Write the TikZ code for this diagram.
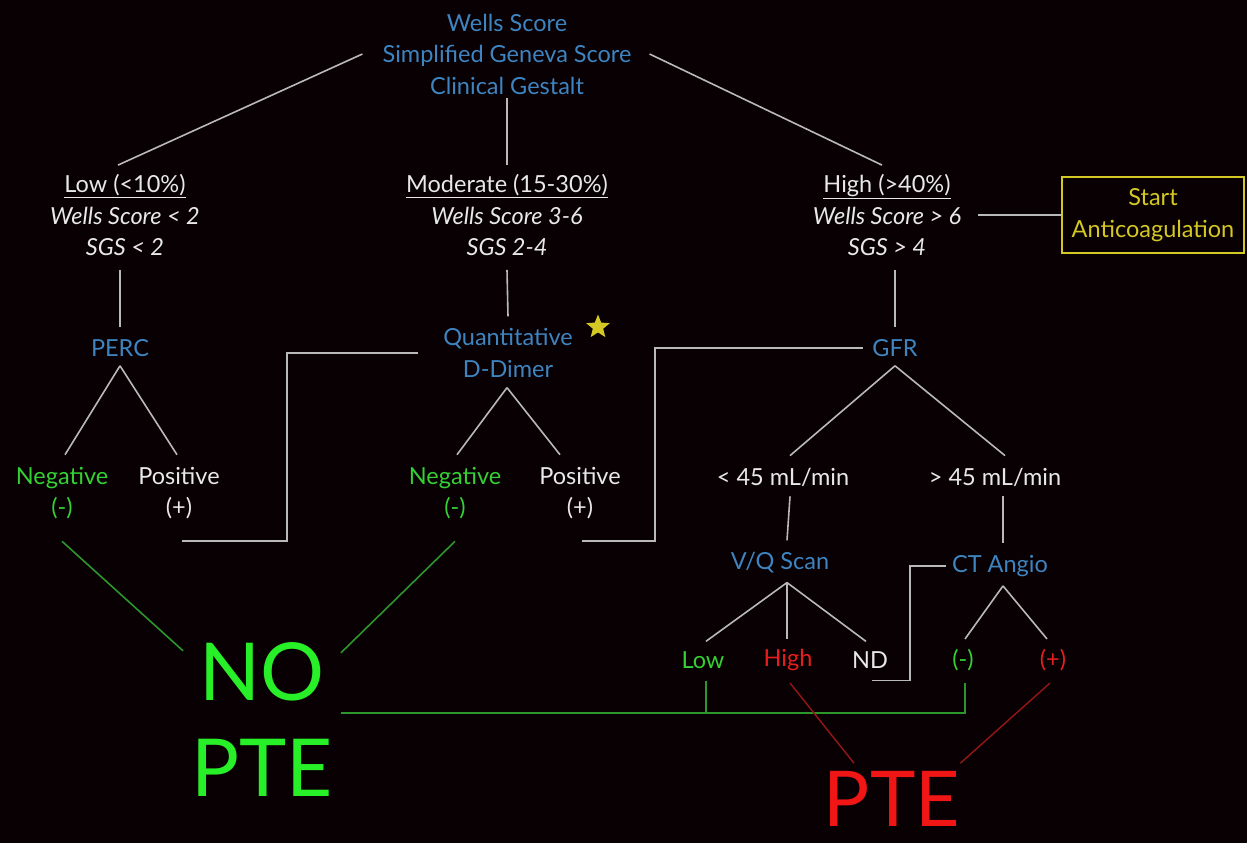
\documentclass[tikz,border=0pt]{standalone}
\usepackage{fontspec}
\setmainfont{Lato}
\usetikzlibrary{shapes.geometric}
\definecolor{bgc}{RGB}{8,0,2}
\definecolor{tblue}{RGB}{62,132,192}
\definecolor{twhite}{RGB}{232,232,232}
\definecolor{tgreen}{RGB}{52,208,52}
\definecolor{bgreen}{RGB}{40,240,40}
\definecolor{tred}{RGB}{228,30,30}
\definecolor{bred}{RGB}{240,22,22}
\definecolor{lgray}{RGB}{185,185,185}
\definecolor{lgreen}{RGB}{44,150,44}
\definecolor{lred}{RGB}{150,22,22}
\definecolor{tyellow}{RGB}{212,200,36}
\tikzset{
  lbl/.style={font=\fontsize{23.5}{31.5}\selectfont, align=center, inner sep=0pt, text=twhite},
  blu/.style={lbl, text=tblue},
  grn/.style={lbl, text=tgreen},
  rd/.style={lbl, text=tred},
  big/.style={inner sep=0pt, align=center, font=\fontsize{80}{96}\selectfont},
  verdict/.style={inner sep=0pt, font=\fontsize{77}{90}\selectfont},
  conn/.style={draw=lgray, line width=1.6pt},
  gconn/.style={draw=lgreen, line width=1.6pt},
  rconn/.style={draw=lred, line width=1.4pt},
}
\begin{document}
\begin{tikzpicture}[x=1pt,y=-1pt]
\fill[bgc] (0,0) rectangle (1247,843);
\useasboundingbox (0,0) rectangle (1247,843);

% scoring tools
\node[blu] (top) at (507,54) {Wells Score\\Simplified Geneva Score\\Clinical Gestalt};

% probability groups
\node[lbl] (low) at (125,215) {\underline{Low (<10\%)}\\\textit{Wells Score < 2}\\\textit{SGS < 2}};
\node[lbl] (mod) at (507,215) {\underline{Moderate (15-30\%)}\\\textit{Wells Score 3-6}\\\textit{SGS 2-4}};
\node[lbl] (high) at (887,215) {\underline{High (>40\%)}\\\textit{Wells Score > 6}\\\textit{SGS > 4}};
\node[lbl, text=tyellow, draw=tyellow, line width=1.4pt, minimum width=182, minimum height=76] (anti) at (1153,215) {Start\\Anticoagulation};

% tests
\node[blu] (perc) at (120,348) {PERC};
\node[blu] (dd) at (508,353) {Quantitative\\D-Dimer};
\node[star, star points=5, star point ratio=2.3, fill=tyellow, inner sep=0pt, minimum size=25] (star) at (598,327) {};
\node[blu] (gfr) at (895,348) {GFR};

\node[grn] (neg1) at (62,493) {Negative\\(-)};
\node[lbl] (pos1) at (179,493) {Positive\\(+)};
\node[grn] (neg2) at (455,493) {Negative\\(-)};
\node[lbl] (pos2) at (580,493) {Positive\\(+)};

\node[lbl] (lt45) at (783,477) {< 45 mL/min};
\node[lbl] (gt45) at (995,477) {> 45 mL/min};

\node[blu] (vq) at (780,563) {V/Q Scan};
\node[blu] (cta) at (1000,566) {CT Angio};

\node[grn] (vqlow) at (703,660) {Low};
\node[rd] (vqhigh) at (788,660) {High};
\node[lbl] (vqnd) at (870,660) {ND};
\node[grn] (ctneg) at (963,660) {(-)};
\node[rd] (ctpos) at (1053,660) {(+)};

% outcomes
\node[big, text=bgreen] (nopte) at (262,720) {NO\\PTE};
\node[verdict, text=bred] (pte) at (892,799) {PTE};

% tree connectors
\draw[conn] ([xshift=-20]top.west) -- ([xshift=-7,yshift=9]low.north);
\draw[conn] (top.south) ++(0,4) -- ([yshift=9]mod.north);
\draw[conn] ([xshift=18]top.east) -- ([xshift=-5,yshift=9]high.north);
\draw[conn] ([xshift=17]high.east) -- (anti.west);

\draw[conn] ([xshift=-5,yshift=-14]low.south) -- ([yshift=12]perc.north);
\draw[conn] ([yshift=-14]mod.south) -- ([yshift=12]dd.north);
\draw[conn] ([xshift=8,yshift=-14]high.south) -- ([yshift=12]gfr.north);

\draw[conn] ([yshift=-9]perc.south) -- ([xshift=3,yshift=12]neg1.north);
\draw[conn] ([yshift=-9]perc.south) -- ([xshift=-2,yshift=12]pos1.north);
\draw[conn] ([xshift=-1,yshift=-10]dd.south) -- ([xshift=2,yshift=12]neg2.north);
\draw[conn] ([xshift=-1,yshift=-10]dd.south) -- ([xshift=-20,yshift=12]pos2.north);
\draw[conn] ([yshift=-9]gfr.south) -- ([xshift=7,yshift=12]lt45.north);
\draw[conn] ([yshift=-9]gfr.south) -- ([xshift=10,yshift=12]gt45.north);

\draw[conn] ([xshift=7,yshift=-10]lt45.south) -- ([xshift=7,yshift=12]vq.north);
\draw[conn] ([xshift=8,yshift=-10]gt45.south) -- ([xshift=3,yshift=12]cta.north);

\draw[conn] ([xshift=7,yshift=-9]vq.south) -- ([xshift=3,yshift=10]vqlow.north);
\draw[conn] ([xshift=7,yshift=-9]vq.south) -- ([xshift=-1,yshift=10]vqhigh.north);
\draw[conn] ([xshift=7,yshift=-9]vq.south) -- ([xshift=-4,yshift=10]vqnd.north);
\draw[conn] ([xshift=3,yshift=-9]cta.south) -- ([xshift=2,yshift=10]ctneg.north);
\draw[conn] ([xshift=3,yshift=-9]cta.south) -- ([xshift=-6,yshift=10]ctpos.north);

% positive results lead on to the next test
\draw[conn] ([xshift=3,yshift=-22]pos1.south) -- ++(105,0) |- ([xshift=-25]dd.west);
\draw[conn] ([xshift=2,yshift=-22]pos2.south) -- ++(73,0) |- ([xshift=-9]gfr.west);
\draw[conn] ([xshift=2,yshift=-12]vqnd.south) -- ++(38,0) |- ([xshift=-6]cta.west);

% negative results
\draw[gconn] ([yshift=-22]neg1.south) -- ([xshift=-8,yshift=-8]nopte.north west);
\draw[gconn] ([yshift=-22]neg2.south) -- ([xshift=8,yshift=-10]nopte.north east);
\coordinate (gbar) at ([xshift=8,yshift=7]nopte.east);
\draw[gconn] (gbar) -| ([xshift=2,yshift=-12]ctneg.south);
\draw[gconn] ([xshift=3,yshift=-12]vqlow.south) -- ([xshift=3]vqlow.south |- gbar);

% positive results
\draw[rconn] ([xshift=2,yshift=-12]vqhigh.south) -- ([xshift=-38,yshift=8]pte.north);
\draw[rconn] ([xshift=-3,yshift=-12]ctpos.south) -- ([yshift=8]pte.north east);
\end{tikzpicture}
\end{document}
